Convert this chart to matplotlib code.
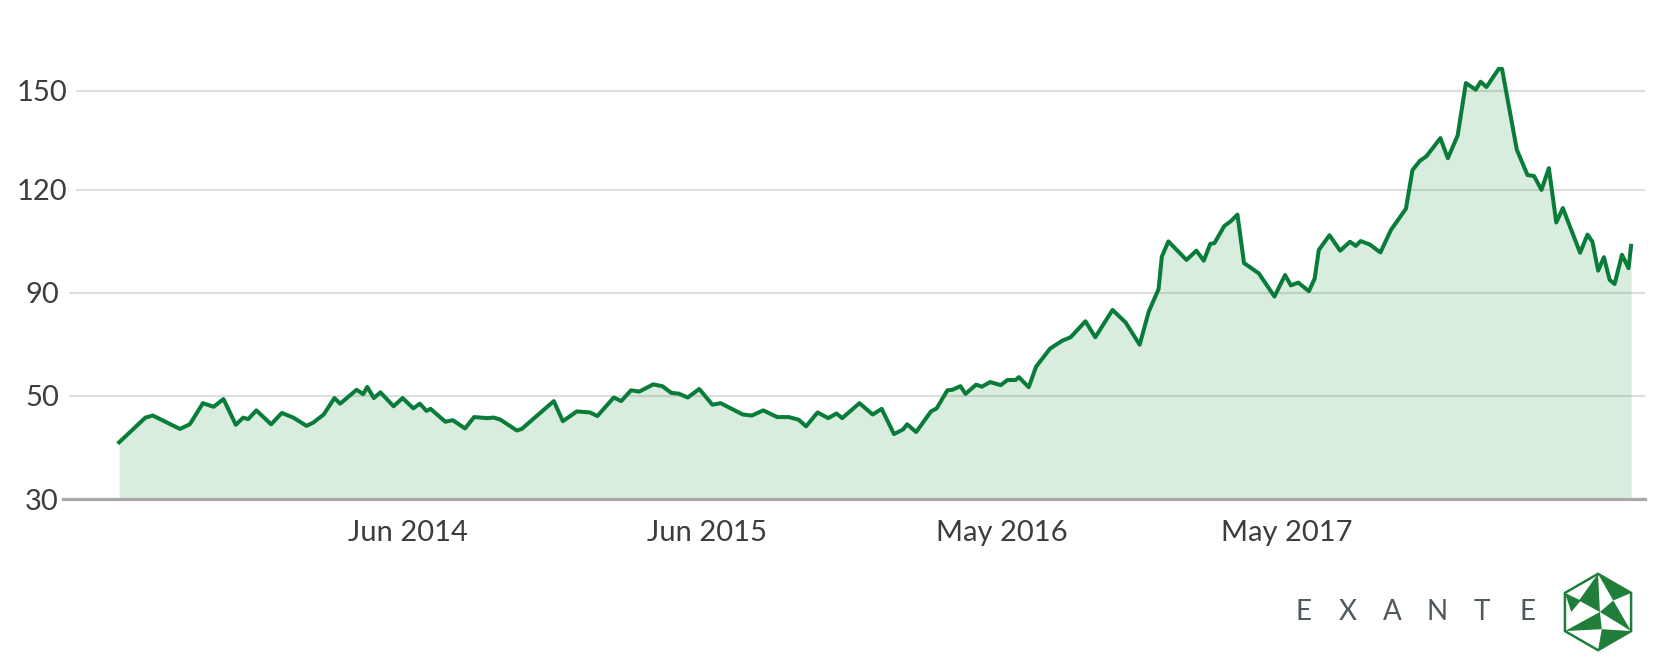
import numpy as np
import pandas as pd
import matplotlib
matplotlib.use('Agg')
import matplotlib.pyplot as plt
from matplotlib.patches import Polygon

plt.rcParams['font.family'] = ['Lato', 'DejaVu Sans']

# price points (Jun 2013 - Jun 2018)
dates = [
    '2013-06-16', '2013-07-18', '2013-07-27', '2013-08-29', '2013-09-10', '2013-09-26', '2013-10-09',
    '2013-10-21', '2013-11-05', '2013-11-14', '2013-11-20', '2013-11-30', '2013-12-18', '2013-12-31',
    '2014-01-14', '2014-01-30', '2014-02-07', '2014-02-20', '2014-03-05', '2014-03-12', '2014-04-01',
    '2014-04-09', '2014-04-14', '2014-04-22', '2014-04-30', '2014-05-16', '2014-05-27', '2014-06-09',
    '2014-06-17', '2014-06-25', '2014-06-30', '2014-07-18', '2014-07-27', '2014-08-11', '2014-08-22',
    '2014-09-07', '2014-09-15', '2014-09-23', '2014-10-13', '2014-10-19', '2014-11-27', '2014-12-08',
    '2014-12-25',
    '2015-01-10', '2015-01-19', '2015-02-08', '2015-02-17', '2015-03-01', '2015-03-11', '2015-03-28',
    '2015-04-08', '2015-04-19', '2015-04-28', '2015-05-09', '2015-05-23', '2015-06-08', '2015-06-18',
    '2015-07-15', '2015-07-26', '2015-08-09', '2015-08-26', '2015-09-09', '2015-09-21', '2015-09-30',
    '2015-10-14', '2015-10-27', '2015-11-06', '2015-11-13', '2015-12-04', '2015-12-20', '2015-12-31',
    '2016-01-15', '2016-01-26', '2016-01-31', '2016-02-11', '2016-02-29', '2016-03-07', '2016-03-20',
    '2016-03-26', '2016-04-05', '2016-04-11', '2016-04-24', '2016-05-01', '2016-05-11', '2016-05-24',
    '2016-06-01', '2016-06-11', '2016-06-15', '2016-06-27', '2016-07-06', '2016-07-23', '2016-08-07',
    '2016-08-17', '2016-09-04', '2016-09-16', '2016-10-07', '2016-10-23', '2016-11-09', '2016-11-20',
    '2016-12-02', '2016-12-06', '2016-12-14',
    '2017-01-05', '2017-01-17', '2017-01-26', '2017-02-03', '2017-02-08', '2017-02-20', '2017-02-28',
    '2017-03-08', '2017-03-16', '2017-04-03', '2017-04-22', '2017-05-05', '2017-05-12', '2017-05-21',
    '2017-06-03', '2017-06-10', '2017-06-15', '2017-06-28', '2017-07-11', '2017-07-23', '2017-07-30',
    '2017-08-05', '2017-08-16', '2017-08-29', '2017-09-11', '2017-09-29', '2017-10-07', '2017-10-16',
    '2017-10-24', '2017-11-10', '2017-11-19', '2017-12-01', '2017-12-11', '2017-12-23', '2017-12-29',
    '2018-01-05', '2018-01-20', '2018-01-24', '2018-02-11', '2018-02-24', '2018-03-04', '2018-03-13',
    '2018-03-22', '2018-03-31', '2018-04-08', '2018-04-29', '2018-05-08', '2018-05-14', '2018-05-21',
    '2018-05-28', '2018-06-04', '2018-06-10', '2018-06-19', '2018-06-27', '2018-06-30',
]
prices = [
    41.0, 45.8, 46.2, 43.6, 44.5, 48.6, 47.9, 49.4, 44.4, 45.8, 45.5, 47.2, 44.5, 46.7,
    45.8, 44.2, 44.8, 46.4, 49.6, 48.5, 52.4, 50.7, 53.5, 49.6, 51.4, 48.0, 49.6, 47.6,
    48.5, 47.1, 47.5, 45.0, 45.3, 43.7, 45.9, 45.7, 45.8, 45.4, 43.3, 43.6, 49.0, 45.1,
    47.0,
    46.8, 46.1, 49.7, 49.0, 52.2, 51.7, 54.5, 53.8, 51.2, 50.9, 49.7, 52.7, 48.3, 48.6,
    46.4, 46.2, 47.2, 45.9, 45.9, 45.4, 44.1, 46.8, 45.7, 46.6, 45.7, 48.6, 46.4, 47.5,
    42.6, 43.5, 44.5, 43.0, 47.0, 47.6, 52.2, 52.4, 53.8, 50.8, 54.4, 53.6, 55.4, 54.2,
    56.2, 56.2, 57.3, 53.4, 61.4, 68.4, 71.5, 72.8, 79.0, 72.8, 83.4, 78.5, 69.9, 82.7,
    91.1, 100.6, 105.0,
    99.6, 102.3, 99.4, 104.3, 104.5, 109.5, 110.9, 112.8, 98.7, 95.7, 88.6, 95.2, 92.2, 93.0,
    90.5, 94.2, 102.5, 106.8, 102.3, 104.9, 103.7, 105.1, 104.1, 101.8, 108.4, 114.5, 126.0, 128.8,
    130.2, 135.7, 129.6, 136.5, 152.4, 150.4, 152.8,
    151.2, 156.7, 156.7, 132.2, 124.5, 124.2, 120.0, 126.6, 110.5, 114.7, 101.7, 107.0, 104.9, 96.5,
    100.4, 93.8, 92.6, 101.1, 97.2, 103.7,
]

# the y axis shows evenly spaced labels that are not evenly spaced in value
y_ticks = [30, 50, 90, 120, 150]
y_tick_pos = [0, 1, 2, 3, 3.96]

x_tick_dates = ['2014-06-02', '2015-06-01', '2016-05-25', '2017-05-07']
x_tick_labels = ['Jun 2014', 'Jun 2015', 'May 2016', 'May 2017']

logo_text = 'EXANTE'

dates = pd.to_datetime(dates)

# piecewise linear scale through the tick values, extended at both ends
top_slope = (y_tick_pos[-1] - y_tick_pos[-2]) / (y_ticks[-1] - y_ticks[-2])
scale_vals = [10] + y_ticks + [200]
scale_pos = [-1] + y_tick_pos + [y_tick_pos[-1] + 50 * top_slope]


def forward(v):
    return np.interp(v, scale_vals, scale_pos)


def inverse(p):
    return np.interp(p, scale_pos, scale_vals)


W, H = 1668, 671
fig = plt.figure(figsize=(W / 100, H / 100), dpi=100)
ax = fig.add_axes([69 / W, 172 / H, (1645 - 69) / W, (613 - 172) / H])
ax.set_yscale('function', functions=(forward, inverse))
ax.set_ylim(30, 160)
ax.set_xlim(dates[0] - pd.Timedelta(days=61), dates[-1] + pd.Timedelta(days=17))

line_green = '#0a7c3a'
grid_col = '#dedede'

# grid lines (the ones next to 3-digit labels start a bit further right)
for v in y_ticks[1:]:
    xmin = 0.005 if v >= 100 else 0.0
    ax.axhline(v, xmin=xmin, xmax=1, color=grid_col, lw=1.5, zorder=1)
ax.axhline(30, xmin=-0.004, xmax=1, color='#a8a8a8', lw=2.3, zorder=4, clip_on=False)

ax.fill_between(dates, prices, 30, color='#129136', alpha=0.16, lw=0, zorder=2)
ax.plot(dates, prices, color=line_green, lw=2.9, solid_joinstyle='round', zorder=3)

ax.set_yticks(y_ticks)
ax.set_yticklabels([str(v) for v in y_ticks])
ax.minorticks_off()
ax.tick_params(axis='y', length=0, pad=19.5, labelsize=21, labelcolor='#3d3d3d')
for lab in ax.get_yticklabels():
    lab.set_ha('center')

ax.set_xticks(pd.to_datetime(x_tick_dates))
ax.set_xticklabels(x_tick_labels)
ax.tick_params(axis='x', length=0, pad=15, labelsize=21, labelcolor='#3d3d3d')

for s in ax.spines.values():
    s.set_visible(False)

# EXANTE wordmark
for i, ch in enumerate(logo_text):
    fig.text((1303 + i * 44.8) / W, 59 / H, ch, ha='center', va='center',
             fontsize=20, color='#4e585d', fontweight='normal')

# hexagon logo
lg = fig.add_axes([(1598 - 42) / W, (59 - 42) / H, 84 / W, 84 / H])
lg.set_xlim(-1.1, 1.1)
lg.set_ylim(-1.1, 1.1)
lg.set_aspect('equal')
lg.axis('off')
ang = np.radians([90, 30, -30, -90, -150, 150])
hx = np.cos(ang)
hy = np.sin(ang)
T, UR, LR, B, LL, UL = [(hx[k], hy[k]) for k in range(6)]
c = (0.05, 0.0)
logo_green = '#1f7f3a'
pieces = [
    [T, (-0.5, 0.3), c],
    [T, UR, (0.4, 0.3)],
    [UL, (-0.45, 0.3), (-0.7, 0.0)],
    [LL, c, (0.1, -0.45)],
    [LR, c, (0.4, 0.3)],
    [(0.1, -0.45), LR, B],
]
for p in pieces:
    lg.add_patch(Polygon(p, closed=True, color=logo_green, lw=0))
lg.add_patch(Polygon(list(zip(hx, hy)), closed=True, fill=False, edgecolor=logo_green, lw=1.8))

fig.savefig('out.png', dpi=100)
